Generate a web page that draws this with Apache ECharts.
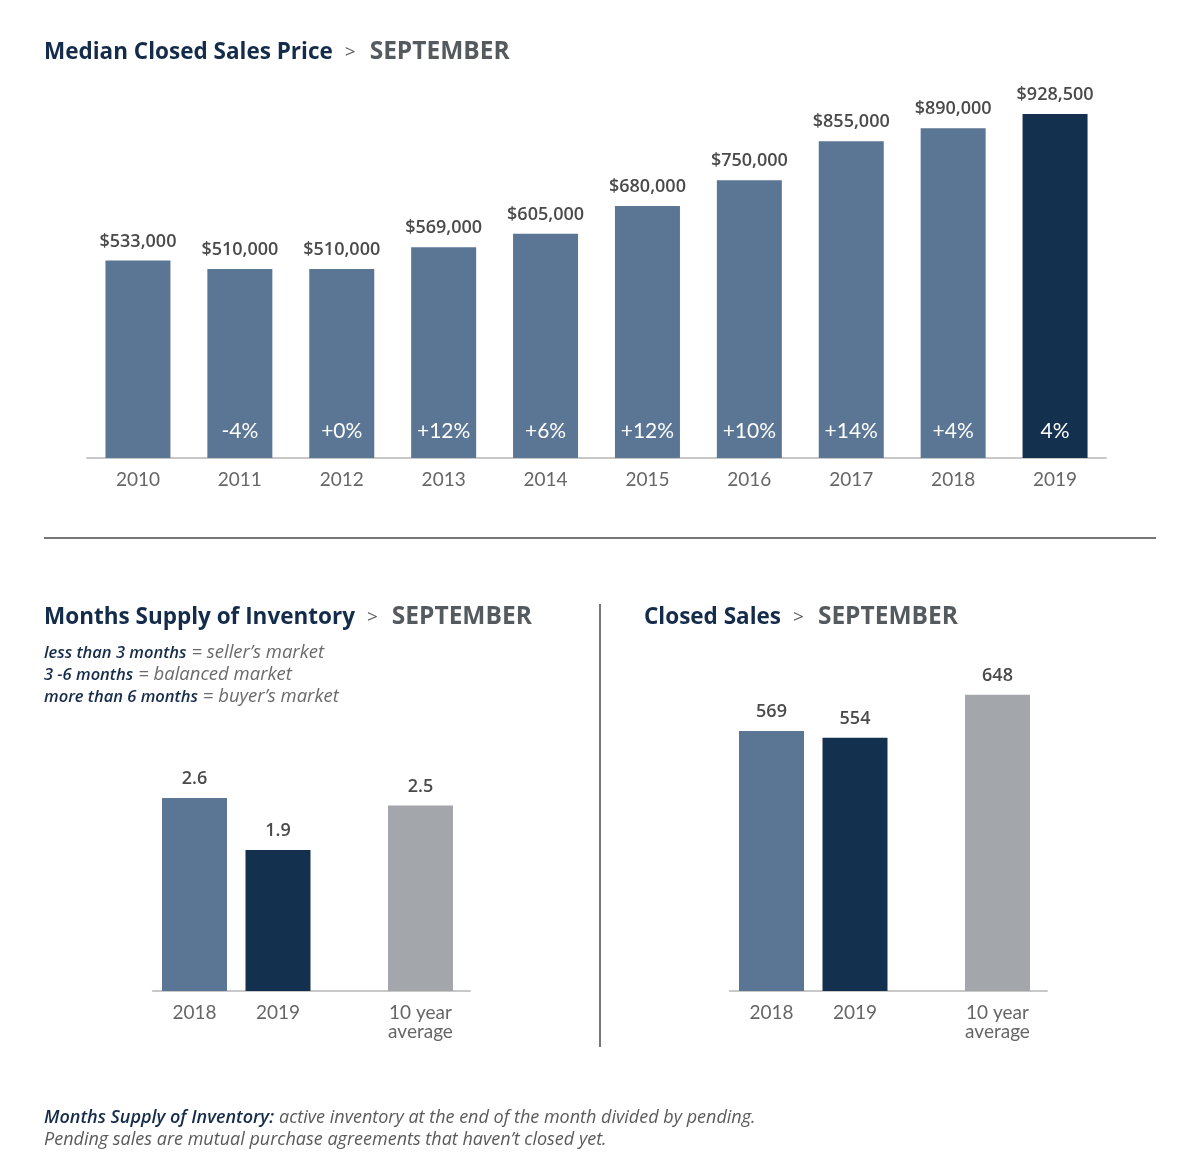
<!DOCTYPE html>
<html><head><meta charset="utf-8">
<script src="https://cdn.jsdelivr.net/npm/echarts@6/dist/echarts.min.js"></script>
<style>html,body{margin:0;padding:0;background:#fff}#c{width:1200px;height:1175px}</style>
</head><body><div id="c"></div><script>
// ---- data ----
const priceYears = ['2010','2011','2012','2013','2014','2015','2016','2017','2018','2019'];
const medianPrice = [533000,510000,510000,569000,605000,680000,750000,855000,890000,928500];
const priceChange = ['','-4%','+0%','+12%','+6%','+12%','+10%','+14%','+4%','4%'];
const compareYears = ['2018','2019'];
const avgCategories = ['','10 year\naverage'];
const monthsSupply = [2.6, 1.9];
const monthsSupplyAvg = ['-', 2.5];
const closedSales = [569, 554];
const closedSalesAvg = ['-', 648];

// ---- style ----
const FONT = 'Lato';
const HFONT = 'Open Sans';
const SLATE = '#5b7595';
const NAVY = '#14304f';
const GRAY = '#a3a6ab';
const NAVY_TXT = '#142c4a';
const AXIS = '#c8c8c8';

const chart = echarts.init(document.getElementById('c'));

function xAxisCfg(gridIndex, cats) {
  return {
    type: 'category', gridIndex, data: cats,
    axisLine: {show: true, lineStyle: {color: AXIS, width: 2}},
    axisTick: {show: false},
    axisLabel: {interval: 0, color: '#666', fontSize: 19, fontFamily: FONT, lineHeight: 19, margin: 12}
  };
}
function yAxisCfg(gridIndex, max) {
  return {type: 'value', gridIndex, min: 0, max, show: false, splitLine: {show: false}};
}
const valLabel = {show: true, position: 'top', distance: 10, color: '#4a4a4a', fontSize: 18, fontWeight: 600, fontFamily: HFONT};

function titleRich(main, x, y) {
  return {
    text: '{a|' + main + '}{b|>}{c|SEPTEMBER}', left: x, top: y, padding: 0,
    textStyle: {fontWeight: 'normal', rich: {
      a: {fontFamily: HFONT, fontSize: 22.5, fontWeight: 'bold', color: NAVY_TXT},
      b: {fontFamily: HFONT, fontSize: 19, fontWeight: 'normal', color: '#555a5f', padding: [0, 14, 0, 12]},
      c: {fontFamily: HFONT, fontSize: 24.5, fontWeight: 'bold', color: '#555a5f'}
    }}
  };
}
const noteRich = {
  b: {fontFamily: HFONT, fontSize: 16.5, fontStyle: 'italic', fontWeight: 600, color: NAVY_TXT, lineHeight: 22},
  i: {fontFamily: HFONT, fontSize: 18.5, fontStyle: 'italic', fontWeight: 'normal', color: '#6a6a6a', lineHeight: 22}
};
const footRich = {
  b: {fontFamily: HFONT, fontSize: 18, fontStyle: 'italic', fontWeight: 600, color: NAVY_TXT, lineHeight: 22},
  i: {fontFamily: HFONT, fontSize: 18, fontStyle: 'italic', fontWeight: 'normal', color: '#5a5a5a', lineHeight: 22}
};

const option = {
  backgroundColor: '#fff',
  animation: false,
  title: [
    titleRich('Median Closed Sales Price', 44, 40),
    titleRich('Months Supply of Inventory', 44, 605),
    titleRich('Closed Sales', 644, 605),
    {left: 44, top: 642, padding: 0, text:
      '{b|less than 3 months} {i|= seller\u2019s market}\n{b|3 -6 months} {i|= balanced market}\n{b|more than 6 months} {i|= buyer\u2019s market}',
      textStyle: {fontWeight: 'normal', rich: noteRich}},
    {left: 44, top: 1107, padding: 0, text:
      '{b|Months Supply of Inventory:} {i|active inventory at the end of the month divided by pending.}\n{i|Pending sales are mutual purchase agreements that haven\u2019t closed yet.}',
      textStyle: {fontWeight: 'normal', rich: footRich}}
  ],
  graphic: [
    {type: 'line', shape: {x1: 44, y1: 538, x2: 1156, y2: 538}, style: {stroke: '#4a4a4a', lineWidth: 1.5}},
    {type: 'line', shape: {x1: 600, y1: 604, x2: 600, y2: 1047}, style: {stroke: '#4a4a4a', lineWidth: 1.5}}
  ],
  grid: [
    {left: 87, top: 87.5, width: 1019, height: 370.5},
    {left: 152.75, top: 768.3, width: 167, height: 222.7},
    {left: 272, top: 768.3, width: 198, height: 222.7},
    {left: 729.75, top: 671, width: 167, height: 320},
    {left: 849, top: 671, width: 198, height: 320}
  ],
  xAxis: [
    xAxisCfg(0, priceYears),
    xAxisCfg(1, compareYears),
    xAxisCfg(2, avgCategories),
    xAxisCfg(3, compareYears),
    xAxisCfg(4, avgCategories)
  ],
  yAxis: [
    yAxisCfg(0, 1000000),
    yAxisCfg(1, 3),
    yAxisCfg(2, 3),
    yAxisCfg(3, 700),
    yAxisCfg(4, 700)
  ],
  series: [
    {type: 'bar', xAxisIndex: 0, yAxisIndex: 0, barWidth: 65,
      data: medianPrice.map((v, i) => ({value: v, itemStyle: {color: i === medianPrice.length - 1 ? NAVY : SLATE}})),
      label: Object.assign({}, valLabel, {formatter: p => '$' + p.value.toLocaleString('en-US')})},
    {type: 'bar', xAxisIndex: 0, yAxisIndex: 0, barWidth: 65, barGap: '-100%',
      data: medianPrice, itemStyle: {color: 'rgba(0,0,0,0)'}, z: 3,
      label: {show: true, position: 'insideBottom', distance: 16, color: '#fff', fontSize: 21, fontFamily: FONT,
        formatter: p => priceChange[p.dataIndex]}},
    {type: 'bar', xAxisIndex: 1, yAxisIndex: 1, barWidth: 65,
      data: monthsSupply.map((v, i) => ({value: v, itemStyle: {color: i === 0 ? SLATE : NAVY}})),
      label: Object.assign({}, valLabel, {formatter: p => p.value.toFixed(1)})},
    {type: 'bar', xAxisIndex: 2, yAxisIndex: 2, barWidth: 65, itemStyle: {color: GRAY},
      data: monthsSupplyAvg,
      label: Object.assign({}, valLabel, {formatter: p => Number(p.value).toFixed(1)})},
    {type: 'bar', xAxisIndex: 3, yAxisIndex: 3, barWidth: 65,
      data: closedSales.map((v, i) => ({value: v, itemStyle: {color: i === 0 ? SLATE : NAVY}})),
      label: valLabel},
    {type: 'bar', xAxisIndex: 4, yAxisIndex: 4, barWidth: 65, itemStyle: {color: GRAY},
      data: closedSalesAvg, label: valLabel}
  ]
};
chart.setOption(option);
</script></body></html>
